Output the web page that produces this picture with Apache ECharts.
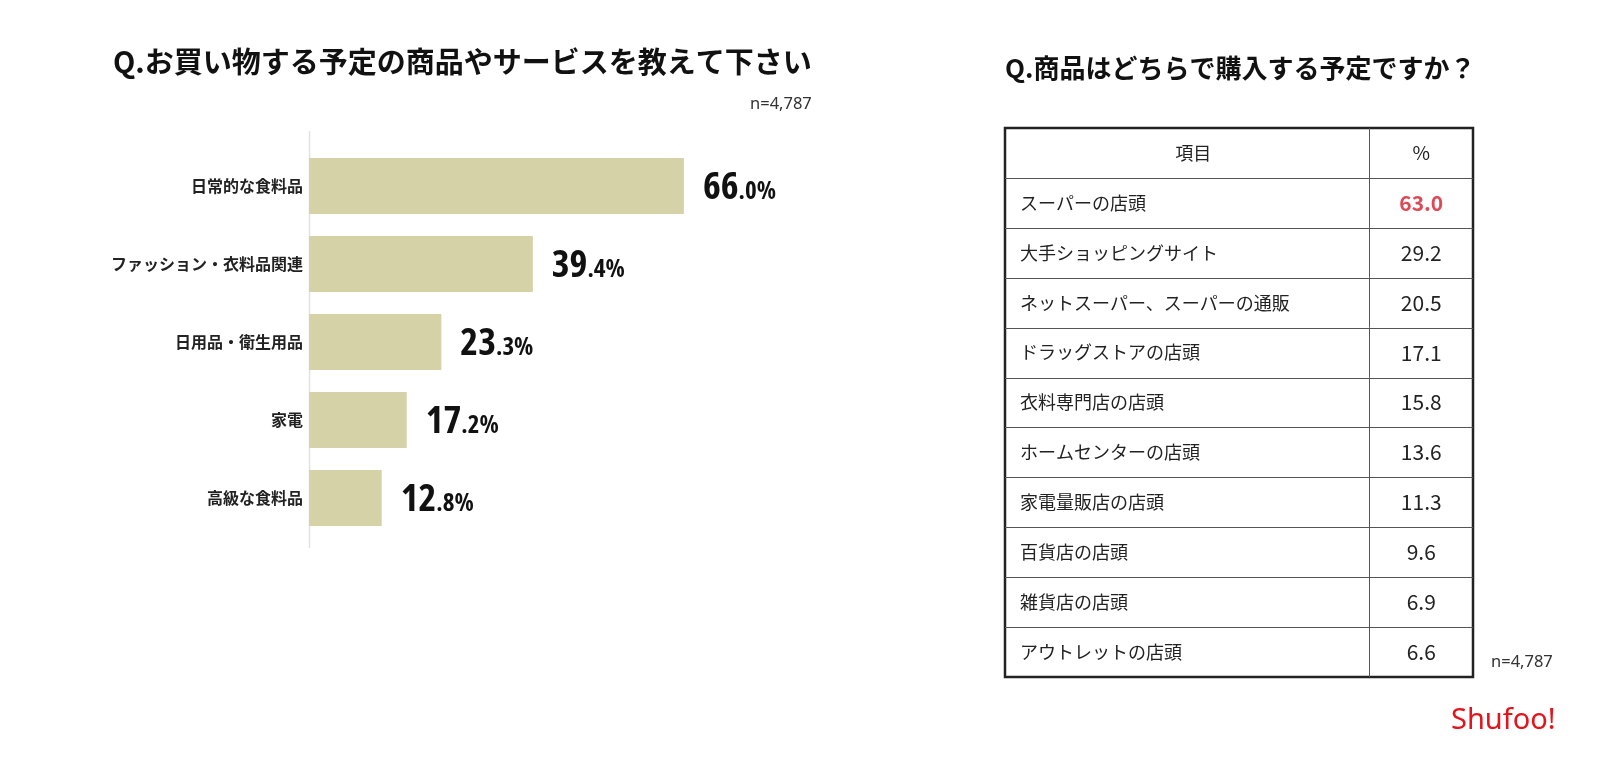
<!DOCTYPE html>
<html>
<head>
<meta charset="utf-8">
<script src="https://cdn.jsdelivr.net/npm/echarts@6/dist/echarts.min.js"></script>
<style>
html,body{margin:0;padding:0;background:#fff;}
#chart{width:1600px;height:757px;}
</style>
</head>
<body>
<div id="chart"></div>
<script>
// ---- data ----
const leftTitle = 'Q.お買い物する予定の商品やサービスを教えて下さい';
const rightTitle = 'Q.商品はどちらで購入する予定ですか？';
const sampleNote = 'n=4,787';
const categories = ['日常的な食料品', 'ファッション・衣料品関連', '日用品・衛生用品', '家電', '高級な食料品'];
const values = [66.0, 39.4, 23.3, 17.2, 12.8];
const tableHeader = ['項目', '%'];
const tableItems = ['スーパーの店頭', '大手ショッピングサイト', 'ネットスーパー、スーパーの通販', 'ドラッグストアの店頭', '衣料専門店の店頭', 'ホームセンターの店頭', '家電量販店の店頭', '百貨店の店頭', '雑貨店の店頭', 'アウトレットの店頭'];
const tableValues = [63.0, 29.2, 20.5, 17.1, 15.8, 13.6, 11.3, 9.6, 6.9, 6.6];
const logoText = 'Shufoo!';

// ---- fonts ----
const CJK = "'Noto Sans CJK JP', 'Noto Sans', sans-serif";
// pick the narrowest bold face available for the big value labels
function pickNarrow() {
  const ctx = document.createElement('canvas').getContext('2d');
  const cands = [
    ['normal', "'Liberation Sans Narrow'"],
    ['normal', "'DejaVu Sans Condensed'"],
    ['normal', "'Roboto Condensed'"],
    ['condensed', "'DejaVu Sans'"],
    ['condensed', "'Liberation Sans'"],
    ['condensed', "'Noto Sans'"],
    ['condensed', "'Open Sans'"],
    ['normal', "'Liberation Sans'"],
    ['normal', "'Roboto'"],
    ['normal', "'Inter'"]
  ];
  let best = { style: 'normal', family: "'Liberation Sans', sans-serif", w: 1e9 };
  cands.forEach(function (c) {
    try {
      ctx.font = c[0] + ' bold 39px ' + c[1] + ', monospace';
      const w = ctx.measureText('66').width;
      ctx.font = c[0] + ' bold 39px monospace';
      const wm = ctx.measureText('66').width;
      if (Math.abs(w - wm) > 0.5 && w < best.w) best = { style: c[0], family: c[1] + ', sans-serif', w: w };
    } catch (e) {}
  });
  return best;
}
const narrow = pickNarrow();
// target: "66" about 35px wide at this size in the reference
let k = narrow.w < 1e8 ? Math.max(0.86, Math.min(1.05, 36 / narrow.w)) : 0.86;
const bigSize = Math.round(39 * k);
const smallSize = Math.round(25 * k);

// ---- chart ----
const tableRows = [tableHeader[0]].concat(tableItems);
const maxTableVal = Math.max.apply(null, tableValues);
const colSplit = 364 / 468;

const chart = echarts.init(document.getElementById('chart'));
chart.setOption({
  backgroundColor: '#fff',
  animation: false,
  title: [
    { text: leftTitle, left: 113, top: 47, padding: 0,
      textStyle: { fontSize: 29, fontWeight: 'bold', color: '#111', fontFamily: CJK } },
    { text: rightTitle, left: 1005, top: 55, padding: 0,
      textStyle: { fontSize: 26, fontWeight: 'bold', color: '#111', fontFamily: CJK } }
  ],
  graphic: [
    { type: 'line', z: 1, shape: { x1: 309.5, y1: 131, x2: 309.5, y2: 548 },
      style: { stroke: '#e2e2e2', lineWidth: 1.5 } },
    { type: 'text', left: 750, top: 96,
      style: { text: sampleNote, fontSize: 16.5, fill: '#333', fontFamily: "'Noto Sans', sans-serif" } },
    { type: 'text', left: 1491, top: 654,
      style: { text: sampleNote, fontSize: 16.5, fill: '#333', fontFamily: "'Noto Sans', sans-serif" } },
    { type: 'text', left: 1451, top: 706,
      style: { text: logoText, fontSize: 29, fill: '#e3141c', fontFamily: "'Noto Sans', sans-serif" } }
  ],
  grid: [
    { left: 309, top: 147, width: 568, height: 390 },
    { left: 1005, top: 128, width: 468, height: 549, show: true,
      borderColor: '#222', borderWidth: 2.5, backgroundColor: 'transparent' }
  ],
  xAxis: [
    { gridIndex: 0, type: 'value', min: 0, max: 100, show: false },
    { gridIndex: 1, type: 'value', min: 0, max: 1, show: false }
  ],
  yAxis: [
    { gridIndex: 0, type: 'category', data: categories, inverse: true,
      axisLine: { show: false }, axisTick: { show: false },
      axisLabel: { margin: 6, fontSize: 16, color: '#222', fontWeight: 'bold', fontFamily: CJK } },
    { gridIndex: 1, type: 'category', data: tableRows, inverse: true, show: false }
  ],
  series: [
    {
      type: 'bar', xAxisIndex: 0, yAxisIndex: 0, data: values, barWidth: 56,
      itemStyle: { color: '#d5d2a8' },
      label: {
        show: true, position: 'right', distance: 19,
        formatter: function (p) {
          const s = p.value.toFixed(1).split('.');
          return '{a|' + s[0] + '}{b|.' + s[1] + '%}';
        },
        rich: {
          a: { fontSize: bigSize, fontWeight: 'bold', fontStyle: narrow.style, color: '#111', fontFamily: narrow.family,
               verticalAlign: 'bottom', lineHeight: 42 },
          b: { fontSize: smallSize, fontWeight: 'bold', fontStyle: narrow.style, color: '#111', fontFamily: narrow.family,
               verticalAlign: 'bottom', lineHeight: 42, padding: [0, 0, 3, 0] }
        }
      }
    },
    {
      type: 'custom', xAxisIndex: 1, yAxisIndex: 1,
      data: tableRows.map(function (_, i) { return [0, i]; }),
      renderItem: function (params, api) {
        const i = params.dataIndex;
        const cs = params.coordSys;
        const c = api.coord([0, i]);
        const h = api.size([0, 1])[1];
        const top = c[1] - h / 2, bottom = c[1] + h / 2;
        const divX = Math.round(cs.x + cs.width * colSplit) + 0.5;
        const by = Math.round(bottom) + 0.5;
        const children = [];
        if (i < tableRows.length - 1) {
          children.push({ type: 'line', shape: { x1: cs.x, y1: by, x2: cs.x + cs.width, y2: by },
            style: { stroke: '#555', lineWidth: 1 } });
        }
        children.push({ type: 'line', shape: { x1: divX, y1: top, x2: divX, y2: bottom },
          style: { stroke: '#555', lineWidth: 1 } });
        if (i === 0) {
          children.push({ type: 'text', style: { text: tableHeader[0], x: (cs.x + divX) / 2 + 6, y: c[1],
            align: 'center', verticalAlign: 'middle', fontSize: 18, fill: '#222', fontFamily: CJK } });
          children.push({ type: 'text', style: { text: tableHeader[1], x: (divX + cs.x + cs.width) / 2, y: c[1],
            align: 'center', verticalAlign: 'middle', fontSize: 19, fill: '#222', fontFamily: CJK } });
        } else {
          const v = tableValues[i - 1];
          const hi = v === maxTableVal;
          children.push({ type: 'text', style: { text: tableItems[i - 1], x: cs.x + 15, y: c[1],
            align: 'left', verticalAlign: 'middle', fontSize: 18, fill: '#222', fontFamily: CJK } });
          children.push({ type: 'text', style: { text: v.toFixed(1), x: (divX + cs.x + cs.width) / 2, y: c[1],
            align: 'center', verticalAlign: 'middle', fontSize: 21,
            fontWeight: hi ? 'bold' : 'normal', fill: hi ? '#dc4a55' : '#222', fontFamily: CJK } });
        }
        return { type: 'group', children: children };
      }
    }
  ]
});
</script>
</body>
</html>
